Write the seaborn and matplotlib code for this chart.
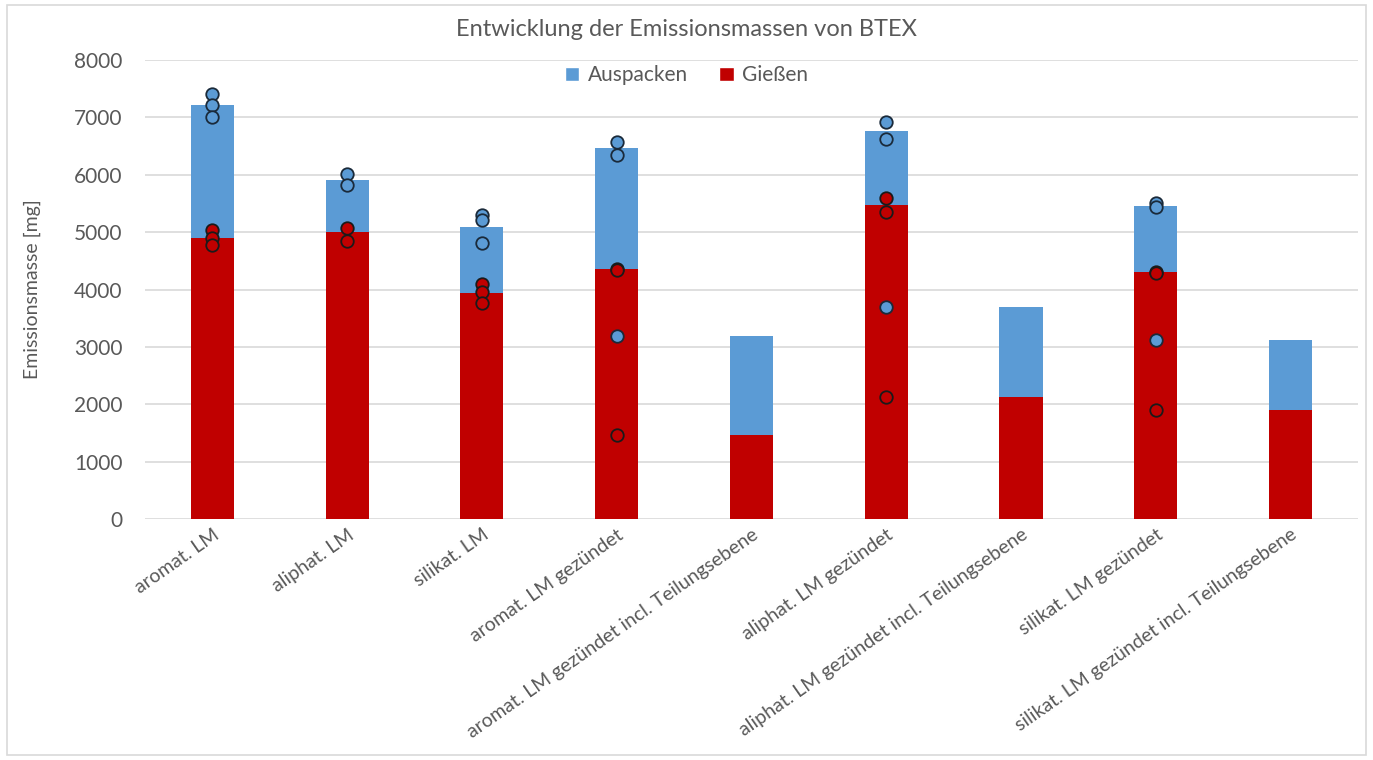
import numpy as np
import pandas as pd
import matplotlib
matplotlib.use("Agg")
import matplotlib.pyplot as plt
from matplotlib.patches import Patch, Rectangle
import seaborn as sns

sns.set_theme(style="white")
plt.rcParams['font.family'] = ['Lato', 'DejaVu Sans']

# categories and stacked bar values (mg)
categories = ['aromat. LM', 'aliphat. LM', 'silikat. LM', 'aromat. LM gezündet',
              'aromat. LM gezündet incl. Teilungsebene', 'aliphat. LM gezündet',
              'aliphat. LM gezündet incl. Teilungsebene', 'silikat. LM gezündet',
              'silikat. LM gezündet incl. Teilungsebene']
giessen = [4900, 5000, 3940, 4350, 1460, 5470, 2130, 4300, 1900]
auspacken = [2310, 910, 1150, 2110, 1730, 1300, 1560, 1160, 1220]

# single measurements shown as points
aus_pt_cat = [0, 0, 0, 1, 1, 2, 2, 2, 3, 3, 3, 5, 5, 5, 7, 7, 7]
aus_pt_val = [7400, 7210, 7000, 6010, 5820, 5300, 5210, 4810, 6570, 6340, 3190,
              6920, 6620, 3690, 5500, 5440, 3120]
gie_pt_cat = [0, 0, 0, 1, 1, 2, 2, 2, 3, 3, 3, 5, 5, 5, 7, 7, 7]
gie_pt_val = [5030, 4900, 4770, 5070, 4850, 4090, 3960, 3770, 4360, 4340, 1470,
              5590, 5350, 2130, 4300, 4280, 1900]

blue = '#5B9BD5'
red = '#C00000'
grey = '#595959'

df = pd.DataFrame({'cat': categories, 'giessen': giessen, 'auspacken': auspacken})
df['total'] = df['giessen'] + df['auspacken']

pts_aus = pd.DataFrame({'cat': [categories[i] for i in aus_pt_cat], 'val': aus_pt_val})
pts_gie = pd.DataFrame({'cat': [categories[i] for i in gie_pt_cat], 'val': gie_pt_val})

fig, ax = plt.subplots(figsize=(13.73, 7.6), dpi=100)
fig.subplots_adjust(left=0.1056, right=0.989, top=0.921, bottom=0.317)

# stacked bars: blue total first, red part on top of it
sns.barplot(data=df, x='cat', y='total', order=categories, color=blue,
            width=0.32, saturation=1, linewidth=0, ax=ax, zorder=2)
sns.barplot(data=df, x='cat', y='giessen', order=categories, color=red,
            width=0.32, saturation=1, linewidth=0, ax=ax, zorder=2)

sns.stripplot(data=pts_aus, x='cat', y='val', order=categories, jitter=False,
              color=blue, size=9, linewidth=1.3, edgecolor='#1a2a3a', ax=ax, zorder=4)
sns.stripplot(data=pts_gie, x='cat', y='val', order=categories, jitter=False,
              color=red, size=9, linewidth=1.3, edgecolor='#1a1a1a', ax=ax, zorder=4)

ax.set_ylim(0, 8000)
ax.set_xlim(-0.5, len(categories) - 0.5)
ax.set_yticks(range(0, 8001, 1000))
ax.yaxis.grid(True, color='#D9D9D9', linewidth=1.2, zorder=0)
ax.set_axisbelow(True)
for s in ax.spines.values():
    s.set_visible(False)
ax.tick_params(axis='y', length=0, pad=16, labelsize=15, labelcolor=grey)
ax.tick_params(axis='x', length=0, pad=5, labelsize=14, labelcolor=grey)
ax.set_xticks(range(len(categories)))
ax.set_xticklabels(categories, rotation=35, ha='right', rotation_mode='anchor')
ax.set_xlabel('')
ax.set_ylabel('Emissionsmasse [mg]', fontsize=14, color=grey, labelpad=24)

fig.suptitle('Entwicklung der Emissionsmassen von BTEX', y=0.975, fontsize=17, color=grey)
handles = [Patch(facecolor=blue, label='Auspacken'), Patch(facecolor=red, label='Gießen')]
fig.legend(handles=handles, loc='center', bbox_to_anchor=(0.5, 0.901), ncol=2,
           frameon=False, fontsize=15, labelcolor=grey, handlelength=0.7,
           handleheight=0.7, columnspacing=1.5, handletextpad=0.4)

# light frame around the chart
fig.patches.append(Rectangle((0.005, 0.006), 0.99, 0.988, transform=fig.transFigure,
                             fill=False, edgecolor='#D9D9D9', linewidth=1.2))

fig.savefig('out.png', dpi=100)
